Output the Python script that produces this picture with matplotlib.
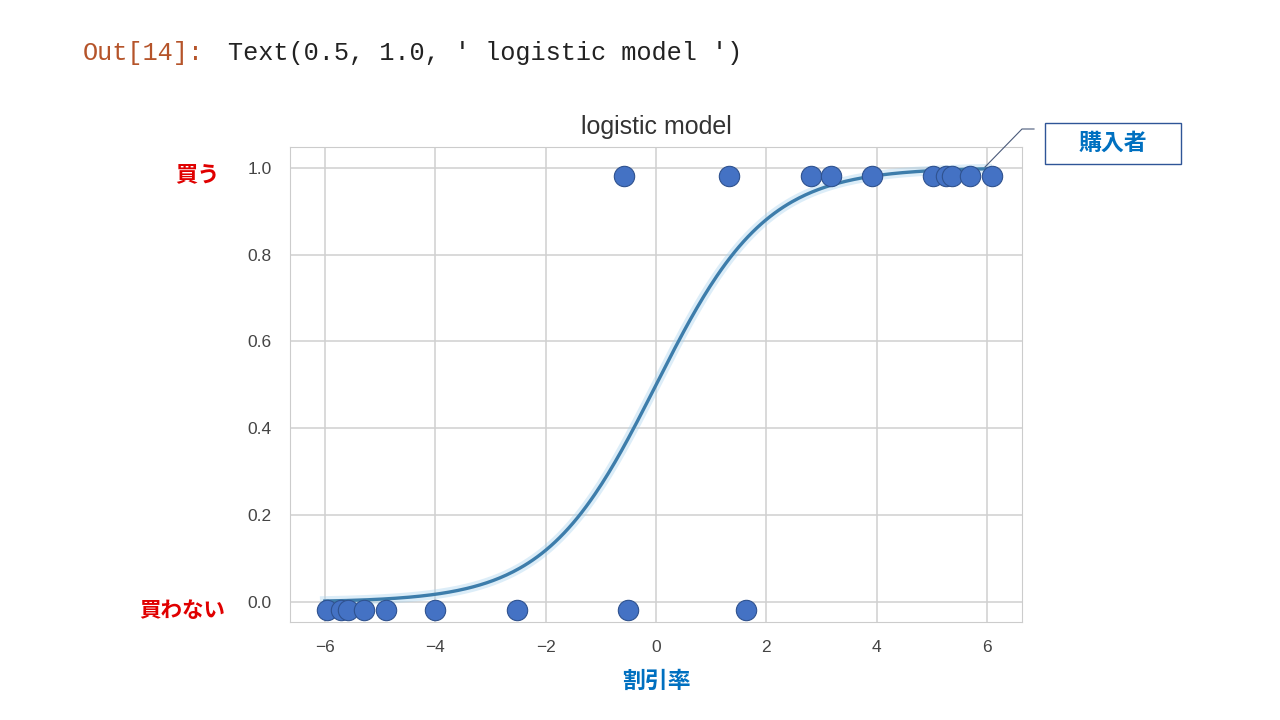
import numpy as np
import matplotlib.pyplot as plt
from matplotlib.patches import Rectangle

buy_x = [-0.58, 1.32, 2.81, 3.17, 3.91, 5.02, 5.25, 5.36, 5.69, 6.09]
buy_y = [0.98] * len(buy_x)
nobuy_x = [-5.96, -5.71, -5.58, -5.29, -4.89, -4.0, -2.52, -0.51, 1.63]
nobuy_y = [-0.018] * len(nobuy_x)

# logistic model parameters
coef = 1.0
intercept = 0.0
x_range = [-6, 6]

xticks = [-6, -4, -2, 0, 2, 4, 6]
yticks = [0.0, 0.2, 0.4, 0.6, 0.8, 1.0]

plt.rcParams['font.family'] = ['Liberation Sans', 'Noto Sans CJK JP', 'DejaVu Sans']

fig = plt.figure(figsize=(12.8, 7.2), dpi=100)
ax = fig.add_axes([0.2266, 0.136, 0.5718, 0.66])

xs = np.linspace(x_range[0], x_range[1], 300)
ys = 1 / (1 + np.exp(-(coef * xs + intercept)))
ax.plot(xs, ys, color='#a9d3ee', lw=7, alpha=0.4, zorder=2)
ax.plot(xs, ys, color='#3d7dab', lw=2.4, zorder=3)

ax.scatter(buy_x + nobuy_x, buy_y + nobuy_y, s=215, color='#4472c4',
           edgecolor='#2f528f', linewidth=0.8, zorder=4)

ax.set_xlim(-6.63, 6.63)
ax.set_ylim(-0.046, 1.048)
ax.set_xticks(xticks)
ax.set_yticks(yticks)
ax.set_xticklabels([str(t).replace('-', '\u2212') for t in xticks])
ax.set_yticklabels(['%.1f' % t for t in yticks])
ax.tick_params(length=0, labelsize=12.5, labelcolor='#444444', pad=13)
ax.grid(True, color='#d0d0d0', lw=1.1)
ax.set_axisbelow(True)
for s in ax.spines.values():
    s.set_color('#cccccc')
ax.set_title('logistic model', fontsize=18, color='#333333', pad=9)

# jupyter output line
fig.text(0.065, 0.926, 'Out[14]:', family='Liberation Mono', fontsize=18.2,
         color='#b5542a', va='center')
fig.text(0.178, 0.926, "Text(0.5, 1.0, ' logistic model ')", family='Liberation Mono',
         fontsize=18.2, color='#222222', va='center')

# japanese labels
jp = ['Noto Sans CJK JP', 'DejaVu Sans']
fig.text(0.172, 0.757, '買う', family=jp, fontsize=16, weight='bold', color='#e00000', va='center', ha='right')
fig.text(0.176, 0.152, '買わない', family=jp, fontsize=15.5, weight='bold', color='#e00000', va='center', ha='right')
fig.text(0.513, 0.054, '割引率', family=jp, fontsize=16.5, weight='bold', color='#0070c0', va='center', ha='center')

# callout box
fig.add_artist(Rectangle((1045 / 1280, 1 - 164 / 720), 136 / 1280, 41 / 720,
                         transform=fig.transFigure, fc='white', ec='#2f5597', lw=1))
fig.text(1113 / 1280, 1 - 143 / 720, '購入者', family=jp, fontsize=16.5, weight='bold',
         color='#0070c0', va='center', ha='center')
fig.add_artist(plt.Line2D([985 / 1280, 1022 / 1280, 1034 / 1280],
                          [1 - 167 / 720, 1 - 129 / 720, 1 - 129 / 720],
                          color='#4a5a7a', lw=0.8))

fig.savefig('out.png', dpi=100)
